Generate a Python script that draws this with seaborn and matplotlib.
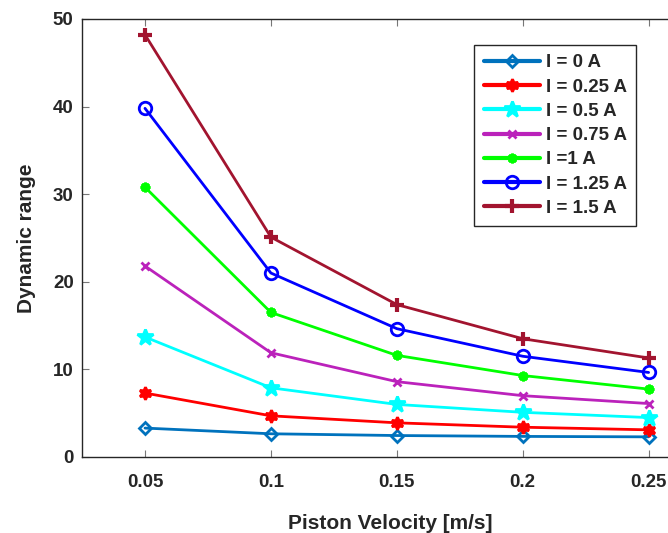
import pandas as pd
import seaborn as sns
import matplotlib.pyplot as plt
from matplotlib.ticker import FuncFormatter

velocity = [0.05, 0.1, 0.15, 0.2, 0.25]
currents = ['I = 0 A', 'I = 0.25 A', 'I = 0.5 A', 'I = 0.75 A', 'I =1 A', 'I = 1.25 A', 'I = 1.5 A']
dr_0 = [3.3, 2.65, 2.45, 2.35, 2.3]
dr_025 = [7.3, 4.7, 3.9, 3.4, 3.1]
dr_05 = [13.7, 7.9, 6.0, 5.1, 4.5]
dr_075 = [21.8, 11.9, 8.6, 7.0, 6.1]
dr_1 = [30.8, 16.5, 11.6, 9.3, 7.75]
dr_125 = [39.8, 21.0, 14.65, 11.5, 9.65]
dr_15 = [48.2, 25.1, 17.4, 13.5, 11.3]
series = [dr_0, dr_025, dr_05, dr_075, dr_1, dr_125, dr_15]

colors = ['#0072BD', '#FF0000', '#00FFFF', '#BB22BB', '#00FF00', '#0000FF', '#A2142F']
markers = ['D', (6, 1, 0), '*', 'x', (8, 2, 0), 'o', '+']
filled = [False, True, True, True, True, False, True]
msizes = [6, 9, 12, 6, 7, 9, 10]
mews = [2, 2, 2, 2, 2, 2, 3]

df = pd.DataFrame({
    'v': velocity * len(currents),
    'dr': sum(series, []),
    'I': [c for c in currents for _ in velocity],
})

sns.set_style('ticks')
plt.rcParams['font.family'] = ['Liberation Sans', 'DejaVu Sans']
plt.rcParams['font.weight'] = 'bold'

fig = plt.figure(figsize=(6.68, 5.33), dpi=100)
ax = fig.add_axes([0.1228, 0.1426, 0.9236, 0.8218])

for lab, col, mk, fl, ms, mew in zip(currents, colors, markers, filled, msizes, mews):
    sub = df[df['I'] == lab]
    sns.lineplot(data=sub, x='v', y='dr', ax=ax, color=col, marker=mk, markersize=ms,
                 markerfacecolor=col if fl else 'none', markeredgecolor=col,
                 markeredgewidth=mew, linewidth=2, label=lab)

ax.set_xlim(0.025, 0.27)
ax.set_ylim(0, 50)
ax.set_xticks(velocity)
ax.xaxis.set_major_formatter(FuncFormatter(lambda x, p: '%g' % x))
ax.set_yticks([0, 10, 20, 30, 40, 50])
ax.tick_params(direction='in', length=5, top=True, right=True, labelsize=13.5,
               colors='#262626')
ax.tick_params(axis='x', pad=12)
ax.tick_params(axis='y', pad=6)
ax.tick_params(color='#777777')
for s in ax.spines.values():
    s.set_color('#262626')
    s.set_linewidth(1)
ax.set_xlabel('Piston Velocity [m/s]', fontsize=15, fontweight='bold', color='#262626', labelpad=17)
ax.set_ylabel('Dynamic range', fontsize=15, fontweight='bold', color='#262626', labelpad=12)

leg = ax.legend(loc='upper right', bbox_to_anchor=(636 / 668, 1 - 45 / 533),
                bbox_transform=fig.transFigure, borderaxespad=0, fancybox=False,
                edgecolor='#262626', framealpha=1, fontsize=13.5, handlelength=3,
                labelspacing=0.38, borderpad=0.5, handletextpad=0.3)
leg.get_frame().set_linewidth(1)
for h in leg.legend_handles:
    h.set_linewidth(3)

fig.savefig('out.png', dpi=100)
